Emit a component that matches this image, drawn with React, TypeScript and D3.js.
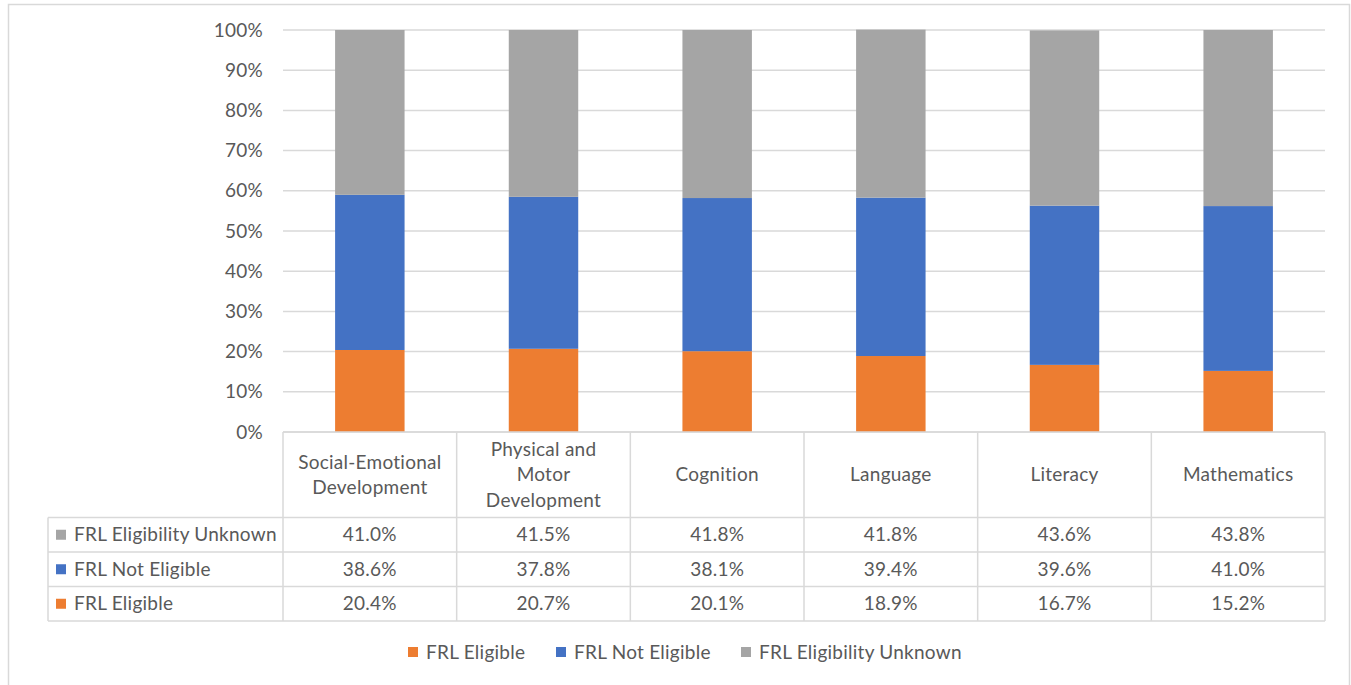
import React from "react";
import * as d3 from "d3";

const categories: string[][] = [
  ["Social-Emotional", "Development"],
  ["Physical and", "Motor", "Development"],
  ["Cognition"],
  ["Language"],
  ["Literacy"],
  ["Mathematics"],
];
const frlEligible = [20.4, 20.7, 20.1, 18.9, 16.7, 15.2];
const frlNotEligible = [38.6, 37.8, 38.1, 39.4, 39.6, 41.0];
const frlUnknown = [41.0, 41.5, 41.8, 41.8, 43.6, 43.8];
const yTicks = [0, 10, 20, 30, 40, 50, 60, 70, 80, 90, 100];

const seriesNames = ["FRL Eligible", "FRL Not Eligible", "FRL Eligibility Unknown"];
const seriesColors = ["#ED7D31", "#4472C4", "#A5A5A5"];

const W = 1351;
const H = 685;
const FONT = "Lato, 'Open Sans', sans-serif";
const TXT = "#595959";
const GRID = "#D9D9D9";

export default function App() {
  const left = 283;
  const right = 1325;
  const top = 30;
  const bottom = 432;
  const tableLeft = 48;
  const headerBottom = 517.5;
  const rowH = 34.5;

  const idx = categories.map((_, i) => i);
  const x = d3.scaleBand<number>().domain(idx).range([left, right]).paddingInner(0).paddingOuter(0);
  const y = d3.scaleLinear().domain([0, 100]).range([bottom, top]);
  const bw = x.bandwidth() * 0.4;

  const series = [frlEligible, frlNotEligible, frlUnknown];
  const stackData = idx.map((i) => ({ i, s0: frlEligible[i], s1: frlNotEligible[i], s2: frlUnknown[i] }));
  const stacked = d3.stack<any>().keys(["s0", "s1", "s2"])(stackData);

  const tableRows = [2, 1, 0];

  const fs = 19;
  const ls = 0.25;

  const legendItems = [
    { s: 0, x: 408 },
    { s: 1, x: 556 },
    { s: 2, x: 741 },
  ];

  return (
    <svg
      width={W}
      height={H}
      style={{ position: "absolute", left: 0, top: 0, background: "#fff" }}
      fontFamily={FONT}
      letterSpacing={ls}
    >
      <rect x={8.5} y={4.5} width={1341} height={700} fill="#fff" stroke="#D9D9D9" strokeWidth={1.5} />
      {yTicks.map((t) => (
        <line key={t} x1={left} x2={right} y1={y(t)} y2={y(t)} stroke={GRID} strokeWidth={1.5} />
      ))}
      {yTicks.map((t) => (
        <text key={"l" + t} x={263} y={y(t)} dy="0.35em" textAnchor="end" fontSize={fs} fill={TXT}>
          {t}%
        </text>
      ))}
      {stacked.map((layer, k) => (
        <g key={k} fill={seriesColors[k]}>
          {layer.map((d, j) => (
            <rect
              key={j}
              x={x(j)! + (x.bandwidth() - bw) / 2}
              y={y(d[1])}
              width={bw}
              height={y(d[0]) - y(d[1])}
            />
          ))}
        </g>
      ))}
      <g stroke={GRID} strokeWidth={1.5} fill="none">
        <line x1={left} x2={right} y1={bottom} y2={bottom} />
        <line x1={tableLeft} x2={right} y1={headerBottom} y2={headerBottom} />
        {[1, 2, 3].map((r) => (
          <line key={r} x1={tableLeft} x2={right} y1={headerBottom + r * rowH} y2={headerBottom + r * rowH} />
        ))}
        <line x1={tableLeft} x2={tableLeft} y1={headerBottom} y2={headerBottom + 3 * rowH} />
        {idx.map((i) => (
          <line key={i} x1={x(i)!} x2={x(i)!} y1={bottom} y2={headerBottom + 3 * rowH} />
        ))}
        <line x1={right} x2={right} y1={bottom} y2={headerBottom + 3 * rowH} />
      </g>
      {categories.map((lines, i) => {
        const cx = x(i)! + x.bandwidth() / 2;
        const cy = (bottom + headerBottom) / 2;
        const lh = 25.5;
        return (
          <text key={i} textAnchor="middle" fontSize={fs} fill={TXT}>
            {lines.map((ln, k) => (
              <tspan key={k} x={cx} y={cy + (k - (lines.length - 1) / 2) * lh} dy="0.35em">
                {ln}
              </tspan>
            ))}
          </text>
        );
      })}
      {tableRows.map((s, r) => {
        const cy = headerBottom + r * rowH + rowH / 2;
        return (
          <g key={s}>
            <rect x={56} y={cy - 5} width={10} height={10} fill={seriesColors[s]} />
            <text x={74} y={cy} dy="0.35em" fontSize={fs} fill={TXT}>
              {seriesNames[s]}
            </text>
            {series[s].map((v, i) => (
              <text key={i} x={x(i)! + x.bandwidth() / 2} y={cy} dy="0.35em" textAnchor="middle" fontSize={fs} fill={TXT}>
                {v.toFixed(1)}%
              </text>
            ))}
          </g>
        );
      })}
      {legendItems.map(({ s, x: lx }) => (
        <g key={s}>
          <rect x={lx} y={647} width={10} height={10} fill={seriesColors[s]} />
          <text x={lx + 18} y={652} dy="0.35em" fontSize={fs} fill={TXT}>
            {seriesNames[s]}
          </text>
        </g>
      ))}
    </svg>
  );
}
